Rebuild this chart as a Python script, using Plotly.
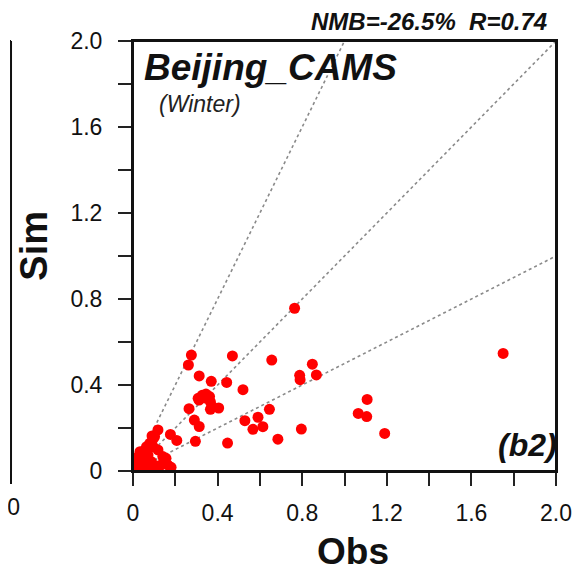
import plotly.graph_objects as go

# ---------------- data ----------------
obs = [0.764, 1.750, 0.276, 0.262, 0.470, 0.656, 0.848, 0.788, 0.790, 0.867,
       0.313, 0.370, 0.443, 0.520, 0.308, 0.327, 0.345, 0.362, 0.312, 0.366,
       0.374, 0.405, 0.366, 0.340, 0.265, 0.645, 0.529, 0.591, 0.290, 0.313,
       0.567, 0.614, 0.796, 0.295, 0.447, 0.685, 1.107, 1.065, 1.105, 1.190,
       0.118, 0.177, 0.207, 0.102, 0.079, 0.095, 0.118, 0.056, 0.033, 0.025,
       0.048, 0.071, 0.141, 0.156, 0.017, 0.040, 0.087, 0.110, 0.133, 0.164,
       0.180, 0.025, 0.071, 0.118, 0.009, 0.047, 0.095, 0.064, 0.090]
sim = [0.757, 0.547, 0.539, 0.493, 0.535, 0.516, 0.497, 0.445, 0.425, 0.447,
       0.442, 0.417, 0.412, 0.378, 0.338, 0.352, 0.358, 0.346, 0.330, 0.322,
       0.300, 0.293, 0.287, 0.340, 0.290, 0.287, 0.234, 0.250, 0.237, 0.207,
       0.194, 0.206, 0.195, 0.138, 0.130, 0.148, 0.333, 0.268, 0.253, 0.175,
       0.191, 0.170, 0.142, 0.160, 0.129, 0.113, 0.098, 0.098, 0.090, 0.067,
       0.059, 0.074, 0.067, 0.059, 0.036, 0.028, 0.043, 0.023, 0.028, 0.028,
       0.017, 0.012, 0.017, 0.012, 0.051, 0.005, 0.150, 0.113, 0.163]

ref_slopes = [2.0, 1.0, 0.5]
tick_vals = [0, 0.4, 0.8, 1.2, 1.6, 2.0]
tick_text = ["0", "0.4", "0.8", "1.2", "1.6", "2.0"]
axis_max = 2.0

title_text = "Beijing_CAMS"
season_text = "(Winter)"
stats_text = "NMB=-26.5%\u00a0\u00a0R=0.74"
panel_text = "(b2)"

# ---------------- layout helpers ----------------
# the page body has an 8px margin, so figure pixels = window pixels - 8
OFF = 8
W, H = 584 - OFF, 572 - OFF
L, T = 133 - OFF, 41 - OFF
PW, PH = 430, 430
R, B = W - L - PW, H - T - PH


def px(x):  # window pixel -> paper x
    return (x - OFF - L) / PW


def py(y):  # window pixel -> paper y
    return (T + PH - (y - OFF)) / PH


fig = go.Figure()

for s in ref_slopes:
    x_end = min(axis_max, axis_max / s)
    fig.add_trace(go.Scatter(
        x=[0, x_end], y=[0, s * x_end], mode="lines",
        line=dict(color="#8a8a8a", width=1.6, dash="dot"),
        hoverinfo="skip", showlegend=False))

fig.add_trace(go.Scatter(
    x=obs, y=sim, mode="markers",
    marker=dict(color="#ff0000", size=11, line=dict(width=0)),
    showlegend=False))

F = "Liberation Sans, Arial, sans-serif"
axis_common = dict(
    range=[0, axis_max], tickmode="array", tickvals=tick_vals, ticktext=tick_text,
    ticks="outside", ticklen=13, tickwidth=1.8, tickcolor="#222222",
    showline=True, linecolor="#111111", linewidth=2, mirror=True,
    showgrid=False, zeroline=False,
    tickfont=dict(family=F, size=23, color="#111111"),
    minor=dict(tickmode="linear", tick0=0, dtick=0.2, ticks="outside", ticklen=13,
               tickwidth=1.8, tickcolor="#222222", showgrid=False),
)

fig.update_xaxes(**axis_common, ticklabelstandoff=7)
fig.update_yaxes(**axis_common, ticklabelstandoff=11)

annotations = [
    dict(text=f"<b><i>{stats_text}</i></b>", x=px(556), y=py(22), xanchor="right",
         yanchor="middle", font=dict(family=F, size=24, color="#111111")),
    dict(text=f"<b><i>{title_text}</i></b>", x=px(142), y=py(67), xanchor="left",
         yanchor="middle", font=dict(family=F, size=37, color="#111111")),
    dict(text=f"<i>{season_text}</i>", x=px(157), y=py(104), xanchor="left",
         yanchor="middle", font=dict(family=F, size=23, color="#222222")),
    dict(text=f"<b><i>{panel_text}</i></b>", x=px(566), y=py(445), xanchor="right",
         yanchor="middle", font=dict(family=F, size=32, color="#111111")),
    dict(text="<b>Sim</b>", x=px(32), y=py(246), xanchor="center", yanchor="middle",
         textangle=-90, font=dict(family=F, size=38, color="#111111")),
    dict(text="<b>Obs</b>", x=px(357), y=py(551), xanchor="center", yanchor="middle",
         font=dict(family=F, size=37, color="#111111")),
    dict(text="2.0", x=px(20), y=py(507), xanchor="right", yanchor="middle",
         font=dict(family=F, size=23, color="#111111")),
]
for a in annotations:
    a.update(xref="paper", yref="paper", showarrow=False)

shapes = [
    # plot frame
    dict(type="rect", x0=0, x1=1, y0=0, y1=1, layer="above"),
    # neighbouring panel remnant (frame edge at the left)
    dict(type="line", x0=px(8), x1=px(9), y0=py(41), y1=py(41)),
    dict(type="line", x0=px(9), x1=px(9), y0=py(41), y1=py(471)),
    dict(type="line", x0=px(9), x1=px(9), y0=py(471), y1=py(484)),
]
for s in shapes:
    s.update(xref="paper", yref="paper", line=dict(color="#111111", width=2))

fig.update_layout(
    width=W, height=H, margin=dict(l=L, r=R, t=T, b=B, pad=0),
    paper_bgcolor="white", plot_bgcolor="white",
    annotations=annotations, shapes=shapes, showlegend=False,
)

fig.write_html("out.html")
